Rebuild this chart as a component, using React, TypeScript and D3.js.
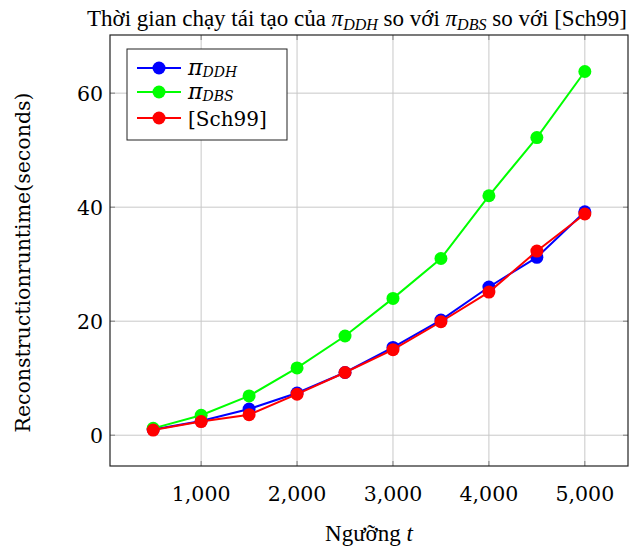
import React from 'react';
import * as d3 from 'd3';

// thresholds t and runtimes (seconds)
const thresholds = [500, 1000, 1500, 2000, 2500, 3000, 3500, 4000, 4500, 5000];
const ddh = [1.0, 2.5, 4.6, 7.4, 11.0, 15.4, 20.2, 26.0, 31.2, 39.2];
const dbs = [1.2, 3.5, 6.9, 11.8, 17.4, 24.0, 31.0, 42.0, 52.2, 63.8];
const sch99 = [0.9, 2.4, 3.6, 7.2, 11.0, 15.0, 19.9, 25.1, 32.3, 38.8];
const xTicks = [1000, 2000, 3000, 4000, 5000];
const yTicks = [0, 20, 40, 60];

const series = [
  { key: 'ddh', values: ddh, color: '#0000ff' },
  { key: 'dbs', values: dbs, color: '#00ff00' },
  { key: 'sch', values: sch99, color: '#ff0000' },
];

const W = 634, H = 548;
const left = 110, right = 628, top = 35, bottom = 466;
const times = '"Liberation Serif", "Times New Roman", serif';
const math = '"DejaVu Serif", serif';

export default function App() {
  const x = d3.scaleLinear().domain([50, 5450]).range([left, right]);
  const y = d3.scaleLinear().domain([-5.4, 70.2]).range([bottom, top]);
  const line = d3.line<number>()
    .x((_, i) => x(thresholds[i]))
    .y((d) => y(d));

  const fmt = d3.format(',');

  return (
    <svg width={W} height={H} style={{ position: 'absolute', left: 0, top: 0, background: '#fff' }}>
      <rect x={0} y={0} width={W} height={H} fill="#fff" />
      {/* title */}
      <text x={357} y={26} fontSize={23} textAnchor="middle" fontFamily={times}>
        Thời gian chạy tái tạo của <tspan fontStyle="italic">π</tspan>
        <tspan fontStyle="italic" fontSize={16} dy={4}>DDH</tspan>
        <tspan dy={-4}> so với </tspan>
        <tspan fontStyle="italic">π</tspan>
        <tspan fontStyle="italic" fontSize={16} dy={4}>DBS</tspan>
        <tspan dy={-4}> so với [Sch99]</tspan>
      </text>

      {/* grid */}
      {xTicks.map((t) => (
        <line key={'gx' + t} x1={x(t)} x2={x(t)} y1={top} y2={bottom} stroke="#c8c8c8" strokeWidth={1} />
      ))}
      {yTicks.map((t) => (
        <line key={'gy' + t} x1={left} x2={right} y1={y(t)} y2={y(t)} stroke="#c8c8c8" strokeWidth={1} />
      ))}
      {/* tick marks */}
      {xTicks.map((t) => (
        <g key={'tx' + t} stroke="#7f7f7f" strokeWidth={1}>
          <line x1={x(t)} x2={x(t)} y1={bottom} y2={bottom - 5} />
          <line x1={x(t)} x2={x(t)} y1={top} y2={top + 5} />
        </g>
      ))}
      {yTicks.map((t) => (
        <g key={'ty' + t} stroke="#7f7f7f" strokeWidth={1}>
          <line x1={left} x2={left + 5} y1={y(t)} y2={y(t)} />
          <line x1={right} x2={right - 5} y1={y(t)} y2={y(t)} />
        </g>
      ))}

      {/* series */}
      {series.map((s) => (
        <g key={s.key}>
          <path d={line(s.values) || ''} fill="none" stroke={s.color} strokeWidth={2} />
          {s.values.map((v, i) => (
            <circle key={i} cx={x(thresholds[i])} cy={y(v)} r={6.5} fill={s.color} />
          ))}
        </g>
      ))}

      {/* frame */}
      <rect x={left} y={top} width={right - left} height={bottom - top} fill="none" stroke="#222" strokeWidth={1.2} />

      {/* tick labels */}
      {xTicks.map((t) => (
        <text key={'lx' + t} x={x(t)} y={501} fontSize={20.5} textAnchor="middle" fontFamily={math}>{fmt(t)}</text>
      ))}
      {yTicks.map((t) => (
        <text key={'ly' + t} x={103} y={y(t) + 7.5} fontSize={20.5} textAnchor="end" fontFamily={math}>{t}</text>
      ))}

      {/* axis labels */}
      <text x={369} y={541} fontSize={23} textAnchor="middle" fontFamily={times}>
        Ngưỡng <tspan fontStyle="italic">t</tspan>
      </text>
      <text transform={`translate(30, ${(top + bottom) / 2 + 12}) rotate(-90)`} fontSize={20.5} textAnchor="middle" fontFamily={math}>
        Reconstructionruntime(seconds)
      </text>

      {/* legend */}
      <g>
        <rect x={127} y={49} width={160} height={91} fill="#fff" stroke="#222" strokeWidth={1} />
        {series.map((s, i) => {
          const ly = [68, 92, 118][i];
          return (
            <g key={'lg' + s.key}>
              <line x1={137} x2={181} y1={ly} y2={ly} stroke={s.color} strokeWidth={2} />
              <circle cx={159} cy={ly} r={6.5} fill={s.color} />
            </g>
          );
        })}
        <text x={188} y={75} fontSize={22} fontStyle="italic" fontFamily={math}>π<tspan fontSize={14} dy={2}>DDH</tspan></text>
        <text x={188} y={99} fontSize={22} fontStyle="italic" fontFamily={math}>π<tspan fontSize={14} dy={2}>DBS</tspan></text>
        <text x={188} y={126} fontSize={20} fontFamily={math}>[Sch99]</text>
      </g>
    </svg>
  );
}
